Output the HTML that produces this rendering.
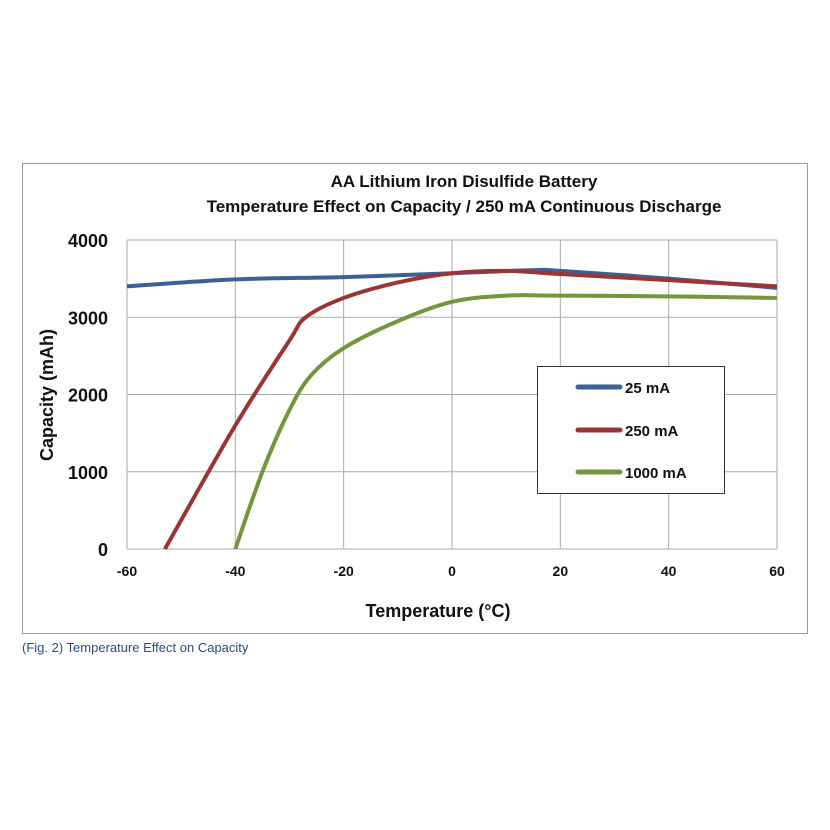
<!DOCTYPE html>
<html><head><meta charset="utf-8"><style>
body{margin:0;background:#fff;}
svg{display:block;font-family:"Liberation Sans",Arial,sans-serif;}
</style></head><body>
<svg id="chart" width="830" height="830" viewBox="0 0 830 830">
<rect x="22.5" y="163.5" width="785" height="470" fill="#fff" stroke="#999"/>
<text x="464" y="187" text-anchor="middle" font-size="17" font-weight="bold" fill="#111">AA Lithium Iron Disulfide Battery</text>
<text x="464" y="212" text-anchor="middle" font-size="17" font-weight="bold" fill="#111">Temperature Effect on Capacity / 250 mA Continuous Discharge</text>
<g id="grid"></g>
<g id="series"></g>
<g id="ticks"></g>
<text x="438" y="617" text-anchor="middle" font-size="18" font-weight="bold" fill="#111">Temperature (°C)</text>
<text transform="translate(53,395) rotate(-90)" text-anchor="middle" font-size="18" font-weight="bold" fill="#111">Capacity (mAh)</text>
<g>
<rect x="537.5" y="366.5" width="187" height="127" fill="#fff" stroke="#333"/>
<line x1="578" y1="387" x2="620" y2="387" stroke="#3b6296" stroke-width="5" stroke-linecap="round"/>
<text x="625" y="393" font-size="15" font-weight="bold" fill="#111">25 mA</text>
<line x1="578" y1="430" x2="620" y2="430" stroke="#9b3434" stroke-width="5" stroke-linecap="round"/>
<text x="625" y="436" font-size="15" font-weight="bold" fill="#111">250 mA</text>
<line x1="578" y1="472" x2="620" y2="472" stroke="#76953d" stroke-width="5" stroke-linecap="round"/>
<text x="625" y="478" font-size="15" font-weight="bold" fill="#111">1000 mA</text>
</g>
<text x="22" y="652" font-size="13" fill="#2b4c7e">(Fig. 2) Temperature Effect on Capacity</text>
</svg>
<script>
const xTicks=[-60,-40,-20,0,20,40,60];
const yTicks=[0,1000,2000,3000,4000];
const t25=[-60,-40,-20,0,15,20,40,60];
const c25=[3400,3490,3520,3570,3610,3600,3500,3380];
const t250=[-53,-40,-30,-27,-20,-10,0,10,20,40,60];
const c250=[0,1600,2700,3000,3250,3450,3570,3600,3560,3480,3400];
const t1000=[-40,-35,-30,-26,-20,-10,0,10,20,40,60];
const c1000=[0,1000,1800,2250,2600,2950,3200,3280,3280,3270,3250];
const NS="http://www.w3.org/2000/svg";
const X0=127,X1=777,Y0=549,Y1=240;
function xs(v){return X0+(v+60)/120*(X1-X0);}
function ys(v){return Y0-v/4000*(Y0-Y1);}
const grid=document.getElementById('grid'),ticks=document.getElementById('ticks'),ser=document.getElementById('series');
xTicks.forEach(v=>{
 const l=document.createElementNS(NS,'line');
 l.setAttribute('x1',xs(v));l.setAttribute('x2',xs(v));l.setAttribute('y1',Y1);l.setAttribute('y2',Y0);
 l.setAttribute('stroke','#aaa');l.setAttribute('stroke-width','1');
 
 
 grid.appendChild(l);
 const t=document.createElementNS(NS,'text');
 t.setAttribute('x',xs(v));t.setAttribute('y',576);t.setAttribute('text-anchor','middle');
 t.setAttribute('font-size','14');t.setAttribute('font-weight','bold');t.setAttribute('fill','#111');
 t.textContent=v;
 
 
 ticks.appendChild(t);
});
yTicks.forEach(v=>{
 const l=document.createElementNS(NS,'line');
 l.setAttribute('x1',X0);l.setAttribute('x2',X1);l.setAttribute('y1',ys(v));l.setAttribute('y2',ys(v));
 l.setAttribute('stroke','#aaa');l.setAttribute('stroke-width','1');
 
 
 grid.appendChild(l);
 const t=document.createElementNS(NS,'text');
 t.setAttribute('x',108);t.setAttribute('y',ys(v)+7);t.setAttribute('text-anchor','end');
 t.setAttribute('font-size','18');t.setAttribute('font-weight','bold');t.setAttribute('fill','#111');
 t.textContent=v;
 
 
 ticks.appendChild(t);
});
function smooth(tx,cy){
 const p=tx.map((t,i)=>[xs(t),ys(cy[i])]);
 let d='M'+p[0][0]+','+p[0][1];
 for(let i=0;i<p.length-1;i++){
  const p0=p[i-1]||p[i],p1=p[i],p2=p[i+1],p3=p[i+2]||p2;
  const c1=[p1[0]+(p2[0]-p0[0])/6,p1[1]+(p2[1]-p0[1])/6];
  const c2=[p2[0]-(p3[0]-p1[0])/6,p2[1]-(p3[1]-p1[1])/6];
  d+=' C'+c1+' '+c2+' '+p2;
 }
 return d;
}
[[t25,c25,'#3b6296','series-25ma'],[t250,c250,'#9b3434','series-250ma'],[t1000,c1000,'#76953d','series-1000ma']].forEach(s=>{
 const p=document.createElementNS(NS,'path');
 p.setAttribute('d',smooth(s[0],s[1]));
 p.setAttribute('fill','none');p.setAttribute('stroke',s[2]);p.setAttribute('stroke-width','4');
 
 
 ser.appendChild(p);
});
</script>
</body></html>
